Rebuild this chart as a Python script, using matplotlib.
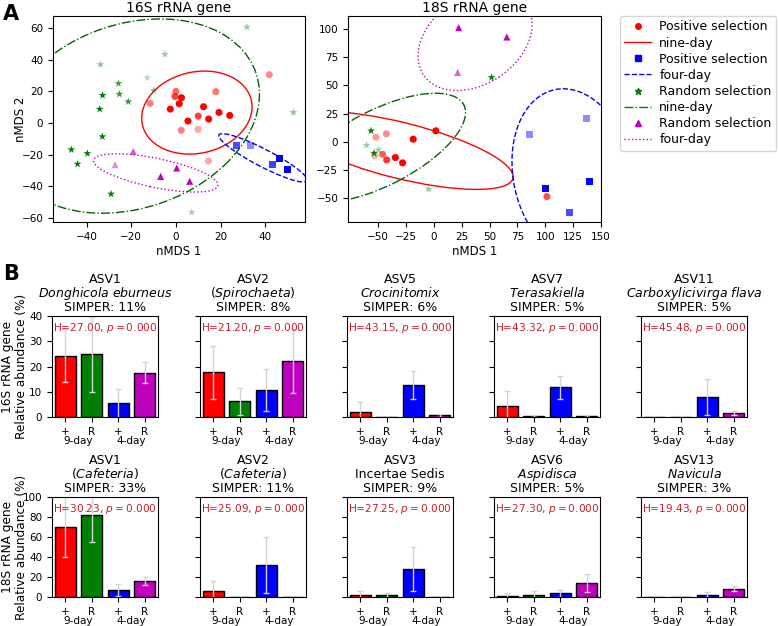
import matplotlib.pyplot as plt
from matplotlib.patches import Ellipse
from matplotlib.lines import Line2D

# ---------------- Panel A: nMDS scores ----------------
# 16S rRNA gene
p9_16s_x = [-2.5, 0.0, -0.4, 1.5, 2.5, 5.4, 10.0, 12.4, 14.7, 19.3, 24.1, 17.9, -11.5, 2.4, 9.9, 14.6, 41.8]
p9_16s_y = [8.8, 20.0, 16.8, 12.2, 16.0, 1.3, 4.4, 10.3, 2.5, 6.7, 4.8, 19.8, 12.4, -4.6, -4.0, -24.0, 30.5]
p9_16s_a = [1, .6, .75, 1, 1, 1, .75, 1, 1, 1, 1, .55, .5, .5, .35, .35, .45]
p4_16s_x = [27.0, 33.2, 46.3, 43.1, 49.9]
p4_16s_y = [-14.1, -14.1, -22.3, -26.1, -29.5]
p4_16s_a = [.7, .45, 1, .75, 1]
r9_16s_x = [-33.8, -25.7, -32.8, -25.3, -21.3, -34.1, -32.9, -46.8, -44.0, -39.6, -29.0, -12.8, -9.9, -4.9, 31.8, 52.6, 7.1]
r9_16s_y = [37.0, 25.0, 17.5, 18.3, 13.5, 8.8, -8.6, -16.8, -25.9, -19.2, -44.8, 28.6, 20.6, 43.4, 60.6, 6.7, -56.4]
r9_16s_a = [.45, .75, 1, .8, .8, 1, 1, 1, 1, 1, 1, .3, .5, .4, .4, .45, .35]
r4_16s_x = [-27.2, -19.1, -6.8, 0.4, 6.2]
r4_16s_y = [-26.3, -17.9, -33.7, -28.4, -36.8]
r4_16s_a = [.45, .65, 1, 1, 1]

# 18S rRNA gene
p9_18s_x = [1.8, -18.5, -52.0, -42.6, -46.0, -42.3, -34.5, -28.0, -53.0, 101.5]
p9_18s_y = [9.8, 2.4, 4.1, 7.1, -11.0, -16.0, -13.9, -18.6, -12.0, -48.5]
p9_18s_a = [1, 1, .4, .45, .65, .8, 1, 1, .35, .7]
p4_18s_x = [85.7, 136.9, 100.3, 140.0, 122.0]
p4_18s_y = [6.5, 20.4, -41.1, -35.2, -62.7]
p4_18s_a = [.45, .45, 1, 1, .7]
r9_18s_x = [-56.3, -53.6, -60.4, -49.7, 51.8, -4.8]
r9_18s_y = [9.8, -10.0, -3.0, -7.1, 57.1, -42.0]
r9_18s_a = [1, 1, .4, .4, 1, .4]
r4_18s_x = [22.3, 65.5, 21.4]
r4_18s_y = [101.2, 92.9, 61.5]
r4_18s_a = [1, 1, .6]

# group ellipses: (cx, cy, width, height, angle)
ell_16s = [(9.4, 6.6, 54.6, 47, 56.7), (39, -22, 49, 10, -37),
           (-20, 4.4, 132, 104, 53.2), (-9, -31.5, 58, 18, -17)]
ell_18s = [(-30, -7.6, 208, 49.6, -13.75), (125, -30, 156, 107, 102.5),
           (-48, -5.2, 168, 67, 26.8), (37, 90, 111, 78, 33)]

# ---------------- Panel B: relative abundance ----------------
groups = ['+', 'R', '+', 'R']
bar_colors = ['red', 'green', 'blue', 'm']

asv_16s = ['ASV1', 'ASV2', 'ASV5', 'ASV7', 'ASV11']
taxa_16s = [r'$\it{Donghicola\ eburneus}$', r'($\it{Spirochaeta}$)', r'$\it{Crocinitomix}$',
            r'$\it{Terasakiella}$', r'$\it{Carboxylicivirga\ flava}$']
simper_16s = [11, 8, 6, 5, 5]
h_16s = [27.00, 21.20, 43.15, 43.32, 45.48]
mean_16s = [[24.3, 24.8, 5.4, 17.6], [17.7, 6.2, 10.7, 22.3], [1.9, 0.0, 12.7, 0.6],
            [4.2, 0.4, 11.7, 0.4], [0.1, 0.1, 7.9, 1.5]]
err_16s = [[10.5, 15.0, 5.6, 4.0], [10.6, 5.4, 8.3, 12.6], [4.2, 0.0, 5.7, 0.6],
           [6.0, 0.3, 4.7, 0.3], [0.1, 0.1, 7.3, 0.7]]

asv_18s = ['ASV1', 'ASV2', 'ASV3', 'ASV6', 'ASV13']
taxa_18s = [r'($\it{Cafeteria}$)', r'($\it{Cafeteria}$)', 'Incertae Sedis',
            r'$\it{Aspidisca}$', r'$\it{Navicula}$']
simper_18s = [33, 11, 9, 5, 3]
h_18s = [30.23, 25.09, 27.25, 27.30, 19.43]
mean_18s = [[70.0, 82.3, 7.3, 16.3], [6.0, 0.0, 32.3, 0.0], [2.3, 1.7, 28.0, 0.0],
            [1.3, 2.0, 3.7, 14.3], [0.3, 0.3, 2.3, 8.3]]
err_18s = [[30.0, 27.0, 6.0, 3.8], [10.3, 0.0, 28.0, 0.0], [3.4, 2.6, 22.0, 0.0],
           [3.0, 4.0, 3.6, 9.0], [0.3, 1.0, 2.7, 2.7]]

W, H = 778, 626
fig = plt.figure(figsize=(W / 100, H / 100), dpi=100)


def box(left, top, right, bottom):
    return [left / W, 1 - bottom / H, (right - left) / W, (bottom - top) / H]


def scatter_panel(ax, sets, ells, title):
    markers = ['o', 's', '*', '^']
    cols = ['red', 'blue', 'green', 'm']
    styles = ['-', '--', '-.', ':']
    for (x, y, a), mk, c in zip(sets, markers, cols):
        for xi, yi, ai in zip(x, y, a):
            ax.scatter(xi, yi, marker=mk, color=c, alpha=ai, s=26 if mk != '*' else 36,
                       edgecolors='none', zorder=3)
    ell_cols = ['red', 'blue', 'darkgreen', 'm']
    for (cx, cy, w, h, ang), c, ls in zip(ells, ell_cols, styles):
        ax.add_patch(Ellipse((cx, cy), w, h, angle=ang, fill=False, edgecolor=c,
                             linestyle=ls, linewidth=1))
    ax.set_title(title, fontsize=10, pad=3)
    ax.set_xlabel('nMDS 1', fontsize=8.5, labelpad=2)
    ax.tick_params(labelsize=7.5)


ax1 = fig.add_axes(box(53, 16, 305, 222))
scatter_panel(ax1, [(p9_16s_x, p9_16s_y, p9_16s_a), (p4_16s_x, p4_16s_y, p4_16s_a),
                    (r9_16s_x, r9_16s_y, r9_16s_a), (r4_16s_x, r4_16s_y, r4_16s_a)],
              ell_16s, '16S rRNA gene')
ax1.set_xlim(-55, 57.8)
ax1.set_ylim(-62.5, 67.6)
ax1.set_xticks([-40, -20, 0, 20, 40])
ax1.set_yticks([-60, -40, -20, 0, 20, 40, 60])
ax1.set_ylabel('nMDS 2', fontsize=8.5)
ax1.yaxis.set_label_coords(-0.103, 0.5)

ax2 = fig.add_axes(box(348, 16, 601, 222))
scatter_panel(ax2, [(p9_18s_x, p9_18s_y, p9_18s_a), (p4_18s_x, p4_18s_y, p4_18s_a),
                    (r9_18s_x, r9_18s_y, r9_18s_a), (r4_18s_x, r4_18s_y, r4_18s_a)],
              ell_18s, '18S rRNA gene')
ax2.set_xlim(-77, 150)
ax2.set_ylim(-71, 111.5)
ax2.set_xticks([-50, -25, 0, 25, 50, 75, 100, 125, 150])
ax2.set_yticks([-50, -25, 0, 25, 50, 75, 100])

handles = [Line2D([], [], marker='o', color='red', ls='none', markersize=4),
           Line2D([], [], color='red', ls='-', lw=1),
           Line2D([], [], marker='s', color='blue', ls='none', markersize=4),
           Line2D([], [], color='blue', ls='--', lw=1),
           Line2D([], [], marker='*', color='green', ls='none', markersize=5),
           Line2D([], [], color='green', ls='-.', lw=1),
           Line2D([], [], marker='^', color='m', ls='none', markersize=4),
           Line2D([], [], color='m', ls=':', lw=1)]
labels = ['Positive selection', 'nine-day', 'Positive selection', 'four-day',
          'Random selection', 'nine-day', 'Random selection', 'four-day']
fig.legend(handles, labels, loc='upper left', bbox_to_anchor=(620 / W, 1 - 16 / H),
           borderaxespad=0, fontsize=9, handlelength=2.1, handletextpad=0.7,
           labelspacing=0.25, borderpad=0.35)

fig.text(3 / W, 1 - 4 / H, 'A', fontsize=15, fontweight='bold', va='top')
fig.text(3 / W, 1 - 264 / H, 'B', fontsize=15, fontweight='bold', va='top')

# bar panels
col_left = [52, 200, 347, 494, 641]
rows = [(316, 417, asv_16s, taxa_16s, simper_16s, h_16s, mean_16s, err_16s, 40, range(0, 41, 10),
         '16S rRNA gene\nRelative abundance (%)'),
        (497, 597, asv_18s, taxa_18s, simper_18s, h_18s, mean_18s, err_18s, 100, range(0, 101, 20),
         '18S rRNA gene\nRelative abundance (%)')]

for top, bottom, asvs, taxa, simper, hs, means, errs, ymax, yt, ylab in rows:
    for i, left in enumerate(col_left):
        ax = fig.add_axes(box(left, top, left + 106, bottom))
        ax.bar(range(4), means[i], width=0.8, color=bar_colors, edgecolor='black', linewidth=1,
               yerr=errs[i], error_kw=dict(ecolor='lightgray', elinewidth=1, capsize=2, capthick=1))
        ax.set_xlim(-0.5, 3.5)
        ax.set_ylim(0, ymax)
        ax.set_yticks(list(yt))
        ax.set_xticks(range(4))
        ax.set_xticklabels(groups)
        ax.set_xticks([0.5, 2.5], minor=True)
        ax.set_xticklabels(['9-day', '4-day'], minor=True)
        ax.tick_params(axis='x', which='minor', length=0, pad=14, labelsize=7.5)
        ax.tick_params(axis='x', which='major', labelsize=7.5)
        ax.tick_params(axis='y', labelsize=7.5)
        if i > 0:
            ax.set_yticklabels([])
        else:
            ax.set_ylabel(ylab, fontsize=8.7, linespacing=1.1)
            ax.yaxis.set_label_coords(-0.23, 0.5)
        # three title lines on fixed baselines
        for txt, off in zip([asvs[i], taxa[i], 'SIMPER: %d%%' % simper[i]], [23.6, 13.7, 3.3]):
            ax.annotate(txt, xy=(0.5, 1), xycoords='axes fraction', xytext=(0, off),
                        textcoords='offset points', ha='center', va='baseline', fontsize=9)
        ax.text(0.5, 0.885, 'H=%.2f, $p = 0.000$' % hs[i], transform=ax.transAxes,
                ha='center', va='center', fontsize=7.6, color='#c8202a')

fig.savefig('out.png', dpi=100)
